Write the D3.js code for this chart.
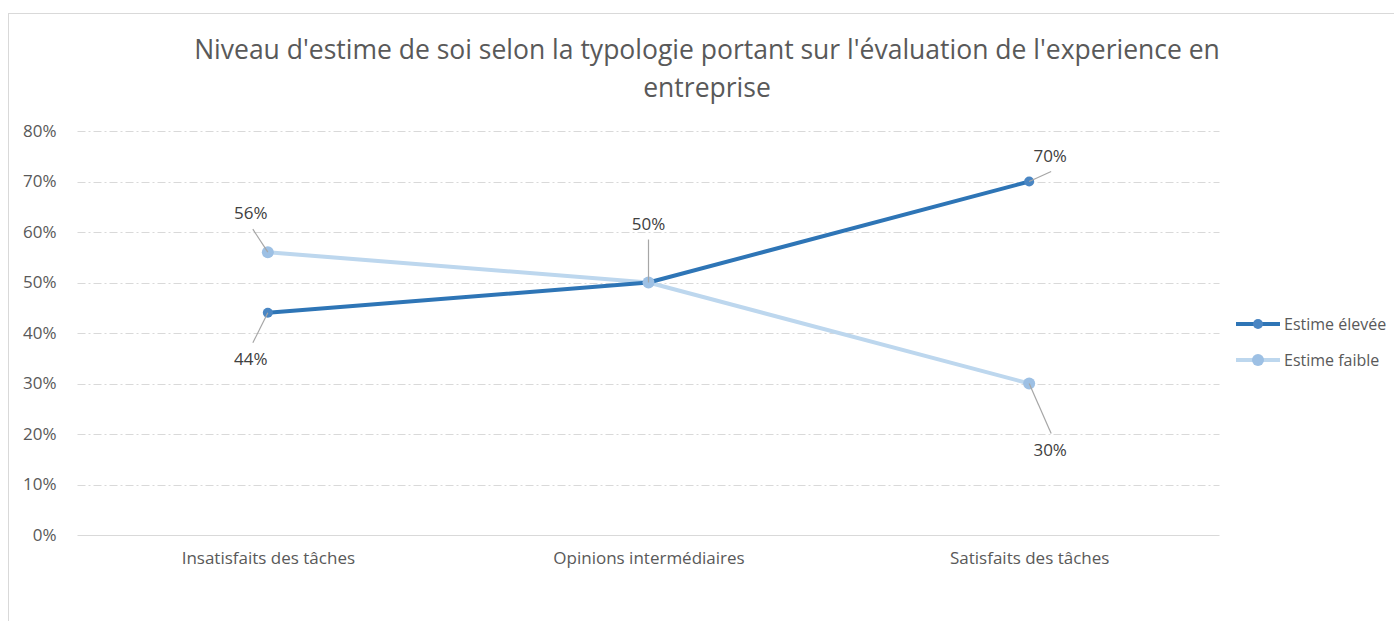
<!DOCTYPE html>
<html>
<head>
<meta charset="utf-8">
<script src="https://cdn.jsdelivr.net/npm/d3@7.9.0/dist/d3.min.js"></script>
<style>
  body { margin: 0; background: #fff; }
  svg { display: block; font-family: "Open Sans", "Noto Sans", sans-serif; }
</style>
</head>
<body>
<svg id="chart" width="1394" height="621"></svg>
<script>
const categories = ['Insatisfaits des tâches', 'Opinions intermédiaires', 'Satisfaits des tâches'];
const estimeElevee = [0.44, 0.50, 0.70];
const estimeFaible = [0.56, 0.50, 0.30];
const yTicks = [0, 0.1, 0.2, 0.3, 0.4, 0.5, 0.6, 0.7, 0.8];
const titleLines = ["Niveau d'estime de soi selon la typologie portant sur l'évaluation de l'experience en", "entreprise"];

const series = [
    { name: 'Estime élevée', values: estimeElevee, line: '#2e75b6', marker: '#4a86c3', width: 4, r: 5 },
    { name: 'Estime faible', values: estimeFaible, line: '#bdd7ee', marker: '#9dc0e4', width: 4, r: 6 },
];

// label offsets relative to the point (label anchor), per series / category
const labelPos = [
    [{ dx: -17, dy: 46 }, { dx: 0, dy: -59 }, { dx: 21, dy: -26 }],
    [{ dx: -17, dy: -39 }, null, { dx: 21, dy: 66 }],
];

const svg = d3.select('#chart');
const margin = { top: 131, left: 77.5, right: 1219.5, bottom: 535 };

// chart border
svg.append('rect')
    .attr('x', 8.5).attr('y', 13.5)
    .attr('width', 1400).attr('height', 620)
    .attr('fill', 'none').attr('stroke', '#d9d9d9');

svg.append('g')
    .selectAll('text')
    .data(titleLines)
    .join('text')
    .attr('x', 707)
    .attr('y', (d, i) => 59 + i * 38)
    .attr('text-anchor', 'middle')
    .attr('font-size', 26.5)
    .attr('fill', '#595959')
    .text((d) => d);

const xScale = d3.scalePoint().domain(categories).range([margin.left, margin.right]).padding(0.5);
const yScale = d3.scaleLinear().domain([0, 0.8]).range([margin.bottom, margin.top]);

// gridlines
svg.append('g')
    .selectAll('line')
    .data(yTicks)
    .join('line')
    .attr('x1', margin.left).attr('x2', margin.right)
    .attr('y1', (d) => Math.round(yScale(d)) + 0.5)
    .attr('y2', (d) => Math.round(yScale(d)) + 0.5)
    .attr('stroke', '#d9d9d9')
    .attr('stroke-width', 1)
    .attr('stroke-dasharray', (d) => (d === 0 ? null : '8,3,2,3'));

// y axis
const yAxis = svg.append('g')
    .attr('transform', `translate(${margin.left - 18}, 0)`)
    .call(d3.axisLeft(yScale).tickValues(yTicks).tickFormat(d3.format('.0%')).tickSize(0));
yAxis.select('.domain').remove();
yAxis.attr('font-size', 17).attr('font-family', '"Open Sans", sans-serif');
yAxis.selectAll('text').attr('fill', '#595959');

// x axis
const xAxis = svg.append('g')
    .attr('transform', `translate(0, ${margin.bottom + 14})`)
    .call(d3.axisBottom(xScale).tickSize(0));
xAxis.select('.domain').remove();
xAxis.attr('font-size', 17).attr('font-family', '"Open Sans", sans-serif');
xAxis.selectAll('text').attr('fill', '#595959');

const line = d3.line()
    .x((d, i) => xScale(categories[i]))
    .y((d) => yScale(d));

[1, 0].forEach((si) => {
    const s = series[si];
    svg.append('path')
        .datum(s.values)
        .attr('fill', 'none')
        .attr('stroke', s.line)
        .attr('stroke-width', s.width)
        .attr('stroke-linejoin', 'round')
        .attr('d', line);
});
[0, 1].forEach((si) => {
    const s = series[si];
    svg.append('g')
        .selectAll('circle')
        .data(s.values)
        .join('circle')
        .attr('cx', (d, i) => xScale(categories[i]))
        .attr('cy', (d) => yScale(d))
        .attr('r', s.r)
        .attr('fill', s.marker);
});

// data labels with leader lines
series.forEach((s, si) => {
    s.values.forEach((v, i) => {
        const p = labelPos[si][i];
        if (!p) return;
        const px = xScale(categories[i]), py = yScale(v);
        const lx = px + p.dx, ly = py + p.dy;
        const up = p.dy < 0;
        const ey = up ? ly + 16 : ly - 16;
        svg.append('line')
            .attr('x1', lx + (p.dx < 0 ? 2 : p.dx > 0 ? 1 : 0)).attr('y1', ey)
            .attr('x2', px).attr('y2', py)
            .attr('stroke', '#a6a6a6').attr('stroke-width', 1.2);
        svg.append('text')
            .attr('x', lx).attr('y', ly + 6)
            .attr('text-anchor', 'middle')
            .attr('font-size', 17)
            .attr('fill', '#404040')
            .text(d3.format('.0%')(v));
    });
});

// legend
const legend = svg.append('g')
    .selectAll('g')
    .data(series)
    .join('g')
    .attr('transform', (d, i) => `translate(1236, ${324 + i * 36})`);
legend.append('line')
    .attr('x1', 0).attr('x2', 44)
    .attr('stroke', (d) => d.line).attr('stroke-width', 4);
legend.append('circle')
    .attr('cx', 22).attr('r', (d) => d.r)
    .attr('fill', (d) => d.marker);
legend.append('text')
    .attr('x', 48).attr('y', 6)
    .attr('font-size', 16).attr('fill', '#595959')
    .text((d) => d.name);
</script>
</body>
</html>
